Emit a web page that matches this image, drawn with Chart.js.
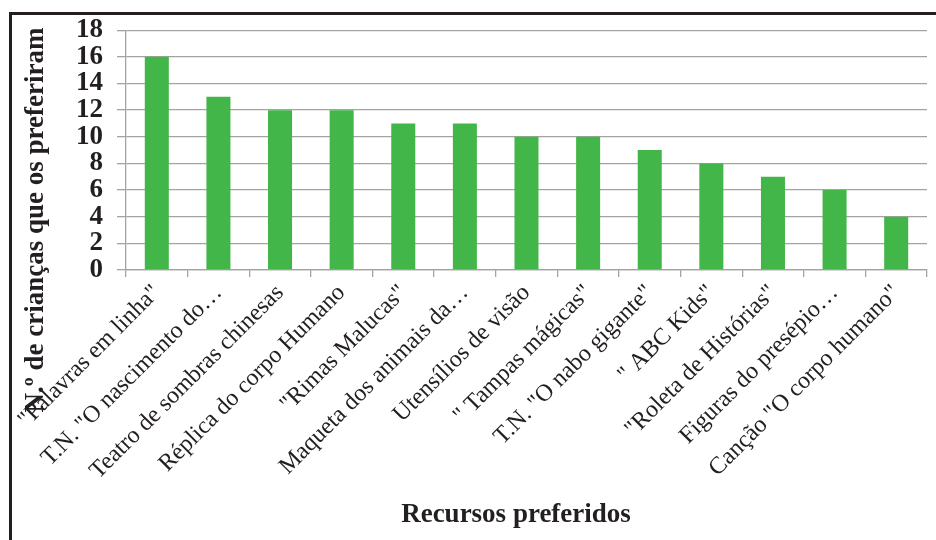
<!DOCTYPE html>
<html>
<head>
<meta charset="utf-8">
<script src="https://cdn.jsdelivr.net/npm/chart.js@4"></script>
<style>
  body { margin: 0; background: #fff; }
  #wrap { position: relative; width: 936px; height: 540px; overflow: hidden; }
  #frame { position: absolute; left: 9px; top: 12px; width: 960px; height: 560px;
           border-top: 3px solid #231f20; border-left: 3px solid #231f20; pointer-events: none; }
</style>
</head>
<body>
<div id="wrap">
  <canvas id="chart" width="936" height="540"></canvas>
  <div id="frame"></div>
</div>
<script>
const categories = [
    '"Palavras em linha"',
    'T.N. "O nascimento do\u2026',
    'Teatro de sombras chinesas',
    'Réplica do corpo Humano',
    '"Rimas Malucas"',
    'Maqueta dos animais da\u2026',
    'Utensílios de visão',
    '" Tampas mágicas"',
    'T.N. "O nabo gigante"',
    '" ABC Kids"',
    '"Roleta de Histórias"',
    'Figuras do presépio\u2026',
    'Canção "O corpo humano"'
];
const counts = [16, 13, 12, 12, 11, 11, 10, 10, 9, 8, 7, 6, 4];
const yTitle = "N.º de crianças que os preferiram";
const xTitle = "Recursos preferidos";

const serif = '"Liberation Serif", "Times New Roman", serif';
const gridGray = "#a3a3a3";

const axisTitles = {
    id: "axisTitles",
    afterDraw(chart) {
        const ctx = chart.ctx;
        ctx.save();
        ctx.fillStyle = "#231f20";
        ctx.font = "bold 27px " + serif;
        ctx.textAlign = "center";
        ctx.textBaseline = "middle";
        ctx.fillText(xTitle, 516, 515);
        ctx.translate(36, 220);
        ctx.rotate(-Math.PI / 2);
        ctx.fillText(yTitle, 0, 0);
        ctx.restore();
    }
};

new Chart(document.getElementById("chart"), {
    type: "bar",
    data: {
        labels: categories,
        datasets: [{
            data: counts,
            backgroundColor: "#43b649",
            barPercentage: 0.78,
            categoryPercentage: 0.5
        }]
    },
    options: {
        responsive: false,
        animation: false,
        layout: { padding: { top: 28, right: 9, left: 0, bottom: 0 } },
        plugins: { legend: { display: false }, tooltip: { enabled: false } },
        scales: {
            x: {
                afterFit: s => { s.height = 270; },
                grid: { drawOnChartArea: false, drawTicks: true, tickLength: 7, color: gridGray, lineWidth: 1.3 },
                border: { color: gridGray, width: 1.3 },
                ticks: {
                    autoSkip: false, maxRotation: 45, minRotation: 45,
                    color: "#231f20", font: { family: serif, size: 24 }, padding: 2
                }
            },
            y: {
                min: 0, max: 18,
                afterFit: s => { s.width = 126; },
                grid: { color: gridGray, lineWidth: 1.3, tickLength: 9 },
                border: { color: gridGray, width: 1.3 },
                ticks: {
                    stepSize: 2, autoSkip: false, color: "#231f20", padding: 14,
                    font: { family: serif, size: 27, weight: "bold" }
                }
            }
        }
    },
    plugins: [axisTitles]
});
</script>
</body>
</html>
